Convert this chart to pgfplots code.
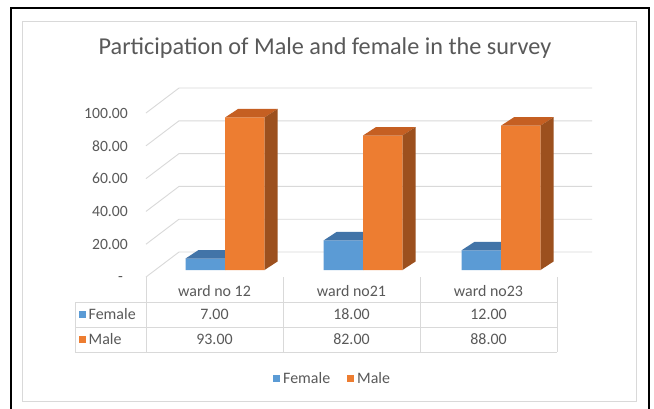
\documentclass[border=0pt]{standalone}
\usepackage{pgfplots}
\usepackage{pgfplotstable}
\pgfplotsset{compat=1.18}
\usepackage{fontspec}
\setmainfont{Carlito}

\definecolor{fblue}{HTML}{5B9BD5}
\definecolor{fbluetop}{HTML}{4274A8}
\definecolor{fblueside}{HTML}{3A6591}
\definecolor{morange}{HTML}{ED7D31}
\definecolor{morangetop}{HTML}{C55F22}
\definecolor{morangeside}{HTML}{9C501E}
\definecolor{txt}{HTML}{595959}
\definecolor{gridc}{HTML}{D9D9D9}

% participants per ward
\pgfplotstableread{
x female male
0 7  93
1 18 82
2 12 88
}\survey

% bar geometry in axis units (one category = 138bp, one value unit = 1.64bp)
\newcommand\bw{0.2862}  % bar width
\newcommand\dpx{0.0942} % bar depth, horizontal part
\newcommand\dpy{5.18}   % bar depth, vertical part

% top and side faces of one bar, taken from the table
\newcommand\barfaces[4]{% #1 row, #2 column, #3 left edge offset, #4 colour prefix
  \pgfplotstablegetelem{#1}{x}\of\survey
  \let\xval\pgfplotsretval
  \pgfplotstablegetelem{#1}{#2}\of\survey
  \let\val\pgfplotsretval
  \pgfmathsetmacro\xa{\xval+#3}%
  \pgfmathsetmacro\xb{\xa+\bw}%
  \pgfmathsetmacro\xc{\xb+\dpx}%
  \pgfmathsetmacro\xd{\xa+\dpx}%
  \pgfmathsetmacro\yt{\val+\dpy}%
  \edef\doplot{%
    \noexpand\addplot[draw=none, fill=#4top, forget plot] coordinates {(\xa,\val) (\xb,\val) (\xc,\yt) (\xd,\yt)};
    \noexpand\addplot[draw=none, fill=#4side, forget plot] coordinates {(\xb,0) (\xb,\val) (\xc,\yt) (\xc,\dpy)};
  }\doplot
}

\begin{document}
\begin{tikzpicture}
\begin{scope}[x=1bp,y=-1bp]
  \useasboundingbox (0,0) rectangle (654,408);
  \fill[white] (0,0) rectangle (654,408);
  \draw[black, line width=1.5bp] (11,410) -- (11,8) -- (649,8) -- (649,410);
  \draw[gridc, line width=1bp] (22,21) rectangle (636,401);
  \node[txt, inner sep=0, font=\fontsize{24.3}{28}\selectfont] at (325,48)
    {Participation of Male and female in the survey};
\end{scope}

\begin{axis}[
  at={(225bp,-270bp)}, anchor=origin,
  x=138bp, y=1.64bp,
  xmin=-0.6, xmax=2.7, ymin=-5, ymax=120,
  hide axis, clip=false,
]
  % side and back walls
  \pgfplotsinvokeforeach{0,20,40,60,80,100}{
    \draw[gridc, line width=0.9bp] (axis cs:-0.5725,{#1-4.268}) -- (axis cs:-0.3333,{#1+10.976})
      -- (axis cs:2.6594,{#1+10.976});
  }
  % value labels on the left wall
  \pgfplotsinvokeforeach{20,40,60,80,100}{
    \node[txt, anchor=east, inner sep=0, xshift=-18bp, font=\fontsize{15.7}{18}\selectfont]
      at (axis cs:-0.5725,{#1-4.268}) {#1.00};
  }
  \node[txt, anchor=east, inner sep=0, xshift=-23bp, yshift=-2bp, font=\fontsize{15.7}{18}\selectfont]
    at (axis cs:-0.5725,-4.268) {-};

  % Female
  \addplot[ybar, bar width=39.5bp, bar shift=-19.75bp, fill=fblue, draw=none, forget plot]
    table[x=x, y=female]{\survey};
  \barfaces{0}{female}{-0.2862}{fblue}
  \barfaces{1}{female}{-0.2862}{fblue}
  \barfaces{2}{female}{-0.2862}{fblue}
  % Male
  \addplot[ybar, bar width=39.5bp, bar shift=19.75bp, fill=morange, draw=none, forget plot]
    table[x=x, y=male]{\survey};
  \barfaces{0}{male}{0}{morange}
  \barfaces{1}{male}{0}{morange}
  \barfaces{2}{male}{0}{morange}
\end{axis}

\begin{scope}[x=1bp,y=-1bp, every node/.style={txt, inner sep=0, font=\fontsize{16}{18}\selectfont}]
  % data table
  \draw[gridc, line width=0.9bp] (75,302) -- (557,302) (75,327) -- (557,327) (75,352) -- (557,352)
    (75,302) -- (75,352);
  \foreach \X in {146,283,420,557} \draw[gridc, line width=0.9bp] (\X,277) -- (\X,352);
  \node at (214.5,291) {ward no 12};
  \node at (351.5,291) {ward no21};
  \node at (488.5,291) {ward no23};
  \fill[fblue] (79,311) rectangle (86,318);
  \node[anchor=west] at (88.5,314.5) {Female};
  \fill[morange] (79,336) rectangle (86,343);
  \node[anchor=west] at (88.5,339.5) {Male};
  \node at (214.5,314.5) {7.00};
  \node at (351.5,314.5) {18.00};
  \node at (488.5,314.5) {12.00};
  \node at (214.5,339.5) {93.00};
  \node at (351.5,339.5) {82.00};
  \node at (488.5,339.5) {88.00};
  % legend
  \fill[fblue] (273,375) rectangle (280,382);
  \node[anchor=west] at (283,378.5) {Female};
  \fill[morange] (346.5,375) rectangle (353.5,382);
  \node[anchor=west] at (357,378.5) {Male};
\end{scope}
\end{tikzpicture}
\end{document}
